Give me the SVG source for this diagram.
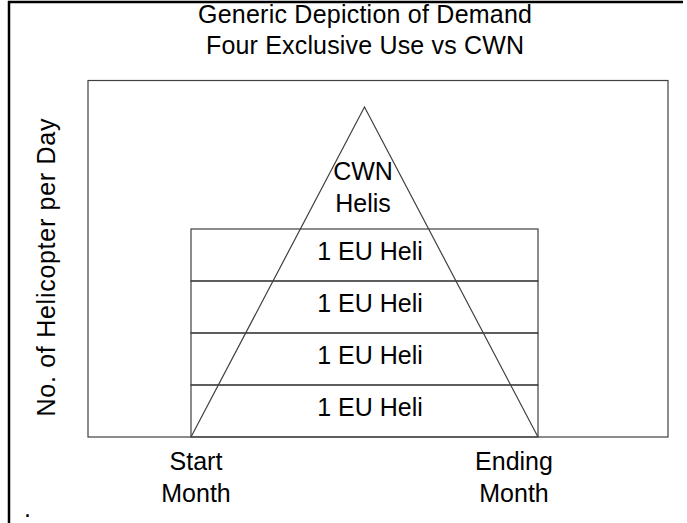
<svg xmlns="http://www.w3.org/2000/svg" width="687" height="523" viewBox="0 0 687 523">
<style>
text{font-family:"Liberation Sans",Arial,sans-serif;font-size:25px;fill:#000}
.c{text-anchor:middle}
.ln{stroke:#404040;stroke-width:1.2;fill:none}
</style>
<rect width="687" height="523" fill="#fff"/>
<g id="page-frame">
<line x1="8" y1="2" x2="683" y2="2" stroke="#000" stroke-width="2.5"/>
<line x1="9" y1="1" x2="9" y2="523" stroke="#000" stroke-width="2.5"/>
</g>
<g id="title">
<text class="c" x="365" y="23" textLength="334" lengthAdjust="spacing">Generic Depiction of Demand</text>
<text class="c" x="365" y="54" textLength="318" lengthAdjust="spacing">Four Exclusive Use vs CWN</text>
</g>
<g id="chart-frame">
<rect class="ln" x="88" y="80.5" width="580" height="356.5"/>
</g>
<g id="bars">
<rect class="ln" x="191" y="229" width="347" height="52"/>
<rect class="ln" x="191" y="281" width="347" height="52"/>
<rect class="ln" x="191" y="333" width="347" height="52"/>
<rect class="ln" x="191" y="385" width="347" height="52"/>
<text class="c" x="370" y="260">1 EU Heli</text>
<text class="c" x="370" y="312">1 EU Heli</text>
<text class="c" x="370" y="364">1 EU Heli</text>
<text class="c" x="370" y="416">1 EU Heli</text>
</g>
<g id="connectors">
<polyline class="ln" points="191,437 364.5,107 538,437"/>
</g>
<g id="cwn">
<text class="c" x="363" y="180">CWN</text>
<text class="c" x="363" y="212">Helis</text>
</g>
<g id="y-axis-label">
<text class="c" transform="translate(55,267.5) rotate(-90)" textLength="298" lengthAdjust="spacing">No. of Helicopter per Day</text>
</g>
<g id="x-labels">
<text class="c" x="196" y="470">Start</text>
<text class="c" x="196" y="502">Month</text>
<text class="c" x="514" y="470">Ending</text>
<text class="c" x="514" y="502">Month</text>
</g>
<text x="24" y="517">.</text>
</svg>
